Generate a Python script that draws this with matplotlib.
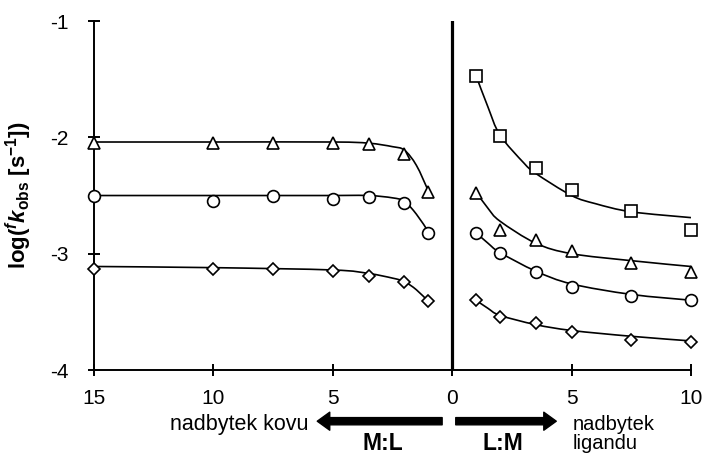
import matplotlib
matplotlib.use("Agg")
import matplotlib.pyplot as plt
from matplotlib.path import Path
from matplotlib.patches import PathPatch

plt.rcParams['font.family'] = 'Liberation Sans'
plt.rcParams['axes.unicode_minus'] = False
plt.rcParams['mathtext.fontset'] = 'custom'
plt.rcParams['mathtext.rm'] = 'Liberation Sans:bold'
plt.rcParams['mathtext.it'] = 'Liberation Sans:italic:bold'
plt.rcParams['mathtext.bf'] = 'Liberation Sans:bold'

# M:L side (excess of metal), ratio values plotted to the left of 0
x_ml = [15, 10, 7.5, 5, 3.5, 2, 1]
tri_ml = [-2.05, -2.05, -2.05, -2.05, -2.06, -2.14, -2.47]
cir_ml = [-2.50, -2.55, -2.50, -2.53, -2.51, -2.56, -2.82]
dia_ml = [-3.13, -3.13, -3.13, -3.15, -3.19, -3.24, -3.41]

# L:M side (excess of ligand), plotted to the right of 0
x_lm = [1, 2, 3.5, 5, 7.5, 10]
sq_lm = [-1.47, -1.99, -2.26, -2.45, -2.63, -2.80]
tri_lm = [-2.48, -2.80, -2.88, -2.98, -3.08, -3.16]
cir_lm = [-2.82, -2.99, -3.16, -3.29, -3.36, -3.40]
dia_lm = [-3.40, -3.54, -3.60, -3.67, -3.74, -3.76]

# fitted curves
fx_ml = [15, 10, 5, 3.5, 2.5, 2, 1.5, 1]
ftri_ml = [-2.04, -2.04, -2.04, -2.05, -2.08, -2.11, -2.24, -2.46]
fcir_ml = [-2.50, -2.50, -2.50, -2.50, -2.52, -2.55, -2.66, -2.81]
fdia_ml = [-3.11, -3.12, -3.14, -3.17, -3.21, -3.24, -3.31, -3.41]

fx_sq = [1, 1.5, 2, 3, 3.5, 5, 6, 7.5, 10]
fsq_lm = [-1.47, -1.74, -1.98, -2.22, -2.31, -2.50, -2.57, -2.64, -2.69]
fx_lm = [1, 1.5, 2, 3.5, 5, 7.5, 10]
ftri_lm = [-2.47, -2.61, -2.72, -2.91, -3.00, -3.06, -3.11]
fcir_lm = [-2.82, -2.91, -2.99, -3.15, -3.26, -3.35, -3.40]
fdia_lm = [-3.40, -3.47, -3.53, -3.61, -3.66, -3.71, -3.75]

xticks = [-15, -10, -5, 0, 5, 10]
xticklabels = ['15', '10', '5', '0', '5', '10']


def smooth(ax, xs, ys):
    # Excel-like smoothed line: Catmull-Rom segments drawn as cubic Beziers
    pts = list(zip(xs, ys))
    verts = [pts[0]]
    codes = [Path.MOVETO]
    for i in range(len(pts) - 1):
        p0 = pts[max(i - 1, 0)]
        p1 = pts[i]
        p2 = pts[i + 1]
        p3 = pts[min(i + 2, len(pts) - 1)]
        c1 = (p1[0] + (p2[0] - p0[0]) / 6, p1[1] + (p2[1] - p0[1]) / 6)
        c2 = (p2[0] - (p3[0] - p1[0]) / 6, p2[1] - (p3[1] - p1[1]) / 6)
        verts += [c1, c2, p2]
        codes += [Path.CURVE4] * 3
    ax.add_patch(PathPatch(Path(verts, codes), fill=False, lw=1.2, ec='black'))


fig = plt.figure(figsize=(7.05, 4.58), dpi=100)
ax = fig.add_axes([0.1333, 0.1921, 0.8468, 0.7620])

neg = lambda v: [-a for a in v]

for fx, fy in [(fx_ml, ftri_ml), (fx_ml, fcir_ml), (fx_ml, fdia_ml)]:
    smooth(ax, neg(fx), fy)
for fx, fy in [(fx_sq, fsq_lm), (fx_lm, ftri_lm), (fx_lm, fcir_lm), (fx_lm, fdia_lm)]:
    smooth(ax, fx, fy)

mk = dict(ls='none', mfc='white', mec='black', mew=1.2, zorder=3, clip_on=False)
ax.plot(neg(x_ml), tri_ml, marker='^', ms=8.5, **mk)
ax.plot(neg(x_ml), cir_ml, marker='o', ms=8.5, **mk)
ax.plot(neg(x_ml), dia_ml, marker='D', ms=6, **mk)
ax.plot(x_lm, sq_lm, marker='s', ms=8.5, **mk)
ax.plot(x_lm, tri_lm, marker='^', ms=8.5, **mk)
ax.plot(x_lm, cir_lm, marker='o', ms=8.5, **mk)
ax.plot(x_lm, dia_lm, marker='D', ms=6, **mk)

ax.axvline(0, color='black', lw=2.3)

ax.set_xlim(-15, 10)
ax.set_ylim(-4, -1)
ax.set_xticks(xticks)
ax.set_xticklabels(xticklabels)
ax.set_yticks([-4, -3, -2, -1])
ax.spines['top'].set_visible(False)
ax.spines['right'].set_visible(False)
for s in ['left', 'bottom']:
    ax.spines[s].set_linewidth(1.4)
ax.tick_params(axis='both', direction='inout', length=8, width=1.4, labelsize=15)
ax.tick_params(axis='y', pad=14)
ax.tick_params(axis='x', pad=10)

ax.set_ylabel(r'log($^{f}$$k_{\mathrm{obs}}$ [s$^{-1}$])', fontsize=16,
              fontweight='bold', labelpad=12)

arrow = dict(arrowstyle='simple,head_width=1.3,head_length=0.9,tail_width=0.52',
             color='black', shrinkA=0, shrinkB=0, mutation_scale=10)
ax.annotate('', xy=(-5.65, -4.44), xytext=(-0.42, -4.44), arrowprops=arrow,
            annotation_clip=False)
ax.annotate('', xy=(4.36, -4.44), xytext=(0.15, -4.44), arrowprops=arrow,
            annotation_clip=False)

ax.text(-6.03, -4.47, 'nadbytek kovu', ha='right', va='center', fontsize=15.5,
        clip_on=False)
ax.text(5.04, -4.39, 'nadbytek\nligandu', ha='left', va='top', fontsize=14.5,
        linespacing=0.98, clip_on=False)
ax.text(-2.89, -4.63, 'M:L', ha='center', va='center', fontsize=16.5,
        fontweight='bold', clip_on=False)
ax.text(2.14, -4.63, 'L:M', ha='center', va='center', fontsize=16.5,
        fontweight='bold', clip_on=False)

fig.savefig('out.png', dpi=100)
